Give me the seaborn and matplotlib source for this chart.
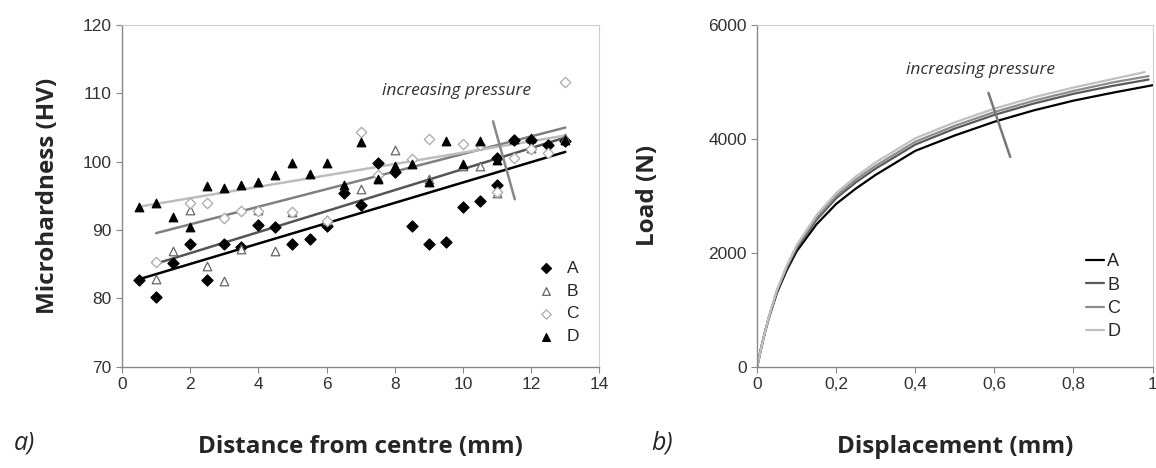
import numpy as np
import pandas as pd
import matplotlib
matplotlib.use("Agg")
import matplotlib.pyplot as plt
import seaborn as sns

# Microdureza (panel a)
dist_A = [0.5, 1, 1.5, 2, 2.5, 3, 3.5, 4, 4.5, 5, 5.5, 6, 6.5, 7, 7.5, 8, 8.5, 9, 9.5, 10, 10.5, 11, 11, 11.5, 12, 12.5, 13]
hv_A = [82.7, 80.2, 85.2, 87.9, 82.7, 87.9, 87.5, 90.7, 90.5, 88.0, 88.7, 90.6, 95.4, 93.6, 99.8, 98.5, 90.6, 88.0, 88.3, 93.4, 94.3, 96.6, 100.5, 103.2, 103.2, 102.5, 103.0]

dist_B = [1, 1.5, 2, 2.5, 3, 3.5, 4, 4.5, 5, 6, 7, 7.5, 8, 9, 10, 10.5, 11, 12, 13]
hv_B = [82.8, 86.9, 93.0, 84.8, 82.6, 87.3, 92.9, 86.9, 92.6, 91.4, 96.0, 97.6, 101.7, 97.5, 99.3, 99.3, 95.4, 102.0, 103.4]

dist_C = [1, 2, 2.5, 3, 3.5, 4, 5, 6, 7, 7.5, 8.5, 9, 10, 10.5, 11, 11.5, 12, 12.5, 13]
hv_C = [85.3, 94.0, 94.0, 91.8, 92.8, 92.8, 92.6, 91.3, 104.4, 98.0, 100.4, 103.3, 102.6, 102.4, 95.5, 100.6, 101.8, 101.2, 111.6]

dist_D = [0.5, 1, 1.5, 2, 2.5, 3, 3.5, 4, 4.5, 5, 5.5, 6, 6.5, 7, 7.5, 8, 8.5, 9, 9.5, 10, 10.5, 11, 11.5, 12, 13]
hv_D = [93.3, 94.0, 91.9, 90.4, 96.5, 96.2, 96.6, 97.0, 98.1, 99.8, 98.2, 99.8, 96.6, 102.9, 97.5, 99.3, 99.6, 97.0, 103.0, 99.6, 103.0, 100.3, 103.3, 103.5, 103.2]

# Carga-desplazamiento (panel b)
disp = [0, 0.01, 0.02, 0.03, 0.05, 0.075, 0.1, 0.15, 0.2, 0.25, 0.3, 0.4, 0.5, 0.6, 0.7, 0.8, 0.9]
load_A = [0, 330, 620, 870, 1300, 1700, 2030, 2500, 2860, 3130, 3370, 3790, 4060, 4300, 4500, 4670, 4810]
load_B = [0, 330, 620, 880, 1330, 1740, 2080, 2580, 2960, 3240, 3480, 3900, 4180, 4420, 4620, 4790, 4930]
load_C = [0, 330, 620, 885, 1340, 1760, 2110, 2620, 3000, 3290, 3530, 3950, 4230, 4470, 4670, 4840, 4990]
load_D = [0, 330, 620, 890, 1350, 1780, 2140, 2660, 3050, 3340, 3590, 4010, 4290, 4530, 4730, 4900, 5050]
end_disp = [1.0, 0.99, 0.99, 0.98]
end_load = [4940, 5040, 5100, 5170]

labels = ['A', 'B', 'C', 'D']

sns.set_theme(style="white")
plt.rcParams['font.family'] = ['Liberation Sans', 'DejaVu Sans']
bold_font = ['Open Sans', 'DejaVu Sans']

fig = plt.figure(figsize=(11.56, 4.68), dpi=100)
ax1 = fig.add_axes([0.1055, 0.216, 0.413, 0.731])
ax2 = fig.add_axes([0.655, 0.216, 0.342, 0.731])

# --- panel a ---
scat = [
    (dist_A, hv_A, 'D', 'black', 'black', 32),
    (dist_B, hv_B, '^', 'white', '#666666', 38),
    (dist_C, hv_C, 'D', 'white', '#aaaaaa', 28),
    (dist_D, hv_D, '^', 'black', 'black', 38),
]
trend_cols = ['black', '#555555', '#808080', '#bdbdbd']
for (x, y, m, fc, ec, s), tc in zip(scat, trend_cols):
    sns.regplot(x=x, y=y, ax=ax1, scatter=False, ci=None, truncate=True,
                line_kws={'color': tc, 'lw': 1.8, 'zorder': 2})
for (x, y, m, fc, ec, s), lab in zip(scat, labels):
    sns.scatterplot(x=x, y=y, ax=ax1, marker=m, color=fc, edgecolor=ec,
                    linewidth=0.9, s=s, label=lab, zorder=3)

ax1.plot([10.88, 11.52], [105.9, 94.5], color='#888888', lw=1.8, zorder=4)
ax1.text(9.8, 110.3, 'increasing pressure', style='italic', fontsize=12.5,
         ha='center', va='center', color='#333333', family=bold_font)

ax1.set_xlim(0, 14)
ax1.set_ylim(70, 120)
ax1.set_xticks(range(0, 15, 2))
ax1.set_yticks(range(70, 121, 10))
ax1.set_xlabel('Distance from centre (mm)', fontsize=17.5, fontweight='bold', family=bold_font)
ax1.set_ylabel('Microhardness (HV)', fontsize=17.5, fontweight='bold', family=bold_font)
ax1.xaxis.set_label_coords(0.5, -0.2)
ax1.yaxis.set_label_coords(-0.13, 0.5)
ax1.legend(loc='lower right', bbox_to_anchor=(0.99, 0.02), frameon=False, fontsize=12.5,
           handletextpad=0.2, labelspacing=0.45, markerscale=0.9)

# --- panel b ---
line_cols = ['black', '#5a5a5a', '#8c8c8c', '#c0c0c0']
loads = [load_A, load_B, load_C, load_D]
for ld, ex, ey, c, lab in zip(loads, end_disp, end_load, line_cols, labels):
    sns.lineplot(x=disp + [ex], y=ld + [ey], ax=ax2, color=c, lw=1.6,
                 label=lab, sort=False)

ax2.plot([0.585, 0.64], [4806, 3683], color='#777777', lw=1.8)
ax2.text(0.565, 5210, 'increasing pressure', style='italic', fontsize=12.5,
         ha='center', va='center', color='#333333', family=bold_font)

ax2.set_xlim(0, 1)
ax2.set_ylim(0, 6000)
ax2.set_xticks([0, 0.2, 0.4, 0.6, 0.8, 1])
ax2.set_xticklabels(['0', '0,2', '0,4', '0,6', '0,8', '1'])
ax2.set_yticks([0, 2000, 4000, 6000])
ax2.set_xlabel('Displacement (mm)', fontsize=17.5, fontweight='bold', family=bold_font)
ax2.set_ylabel('Load (N)', fontsize=17.5, fontweight='bold', family=bold_font)
ax2.xaxis.set_label_coords(0.5, -0.2)
ax2.yaxis.set_label_coords(-0.245, 0.5)
ax2.legend(loc='lower right', bbox_to_anchor=(0.96, 0.03), frameon=False, fontsize=13,
           handlelength=1.0, handletextpad=0.2, labelspacing=0.35)

for ax in (ax1, ax2):
    for side in ('top', 'right'):
        ax.spines[side].set_color('#cfcfcf')
        ax.spines[side].set_linewidth(0.8)
    for side in ('left', 'bottom'):
        ax.spines[side].set_color('#888888')
        ax.spines[side].set_linewidth(1.0)
    ax.tick_params(axis='both', direction='out', length=4, width=0.8,
                   color='#888888', labelsize=12.5, labelcolor='#333333',
                   bottom=True, left=True)
    ax.grid(False)

fig.text(0.012, 0.04, 'a)', style='italic', fontsize=18, family=bold_font)
fig.text(0.563, 0.04, 'b)', style='italic', fontsize=18, family=bold_font)

fig.savefig('out.png', dpi=100, facecolor='white')
